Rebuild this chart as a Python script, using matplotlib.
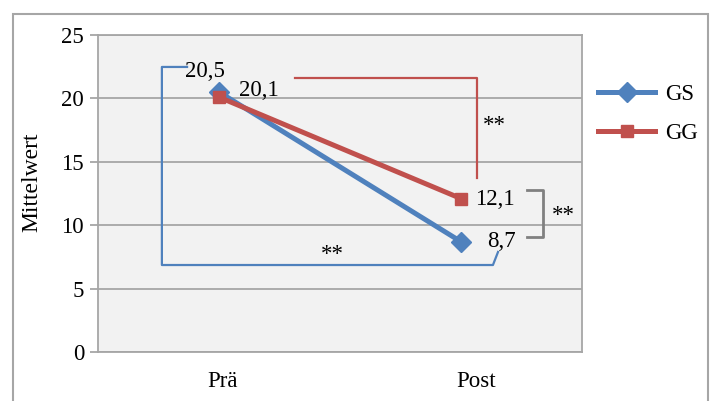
import matplotlib
matplotlib.use("Agg")
import matplotlib.pyplot as plt
import matplotlib.transforms as mtransforms
from matplotlib.patches import Rectangle

plt.rcParams['font.family'] = ['Liberation Serif', 'DejaVu Serif']

# data
categories = ['Prä', 'Post']
gs_values = [20.5, 8.7]
gg_values = [20.1, 12.1]
gs_labels = ['20,5', '8,7']
gg_labels = ['20,1', '12,1']
yticks = [0, 5, 10, 15, 20, 25]

blue = '#4f81bd'
red = '#c0504d'
grey = '#a6a6a6'
fs = 16.5

fig = plt.figure(figsize=(7.14, 4.01), dpi=100)
fig.patch.set_facecolor('white')

# outer chart border
fig.patches.append(Rectangle((13 / 714, -0.05), (708 - 13) / 714, 1.05 - 13.5 / 401,
                             transform=fig.transFigure, fill=False,
                             edgecolor=grey, linewidth=1.5, zorder=0))

ax = fig.add_axes([98 / 714, 1 - 352 / 401, (582 - 98) / 714, (352 - 35) / 401])
ax.set_facecolor('#f2f2f2')
x = list(range(len(categories)))

ax.plot(x, gs_values, color=blue, lw=3.6, marker='D', ms=10, label='GS', zorder=3)
ax.plot(x, gg_values, color=red, lw=3.6, marker='s', ms=8.5, label='GG', zorder=4)

ax.set_xlim(-0.5, 1.5)
ax.set_ylim(0, 25)
ax.set_yticks(yticks)
ax.set_xticks(x)
ax.set_xticklabels(categories)
ax.yaxis.grid(True, color=grey, lw=1.3)
ax.set_axisbelow(True)
for s in ax.spines.values():
    s.set_color(grey)
    s.set_linewidth(1.3)
ax.tick_params(axis='y', length=6, color=grey, width=1.3, labelsize=fs, pad=4)
ax.tick_params(axis='x', length=0, labelsize=fs, pad=14)
# category labels sit a bit right of the points, as in the original
for lab, dx in zip(ax.get_xticklabels(), [4, 15]):
    lab.set_transform(lab.get_transform() +
                      mtransforms.ScaledTranslation(dx / 100, 0, fig.dpi_scale_trans))

ax.text(-0.136, 0.536, 'Mittelwert', transform=ax.transAxes, rotation=90,
        fontsize=17, ha='center', va='center')

# value labels
ax.text(-0.058, 22.1, gs_labels[0], fontsize=fs, ha='center', va='center', zorder=5)
ax.text(0.165, 20.66, gg_labels[0], fontsize=fs, ha='center', va='center', zorder=5)
ax.text(1.14, 12.0, gg_labels[1], fontsize=fs, ha='center', va='center', zorder=5)
ax.text(1.168, 8.68, gs_labels[1], fontsize=fs, ha='center', va='center', zorder=5)

# significance brackets
ax.plot([-0.132, -0.236, -0.236, 1.132, 1.153], [22.48, 22.48, 6.86, 6.86, 7.89],
        color=blue, lw=1.6, zorder=2)
ax.plot([0.314, 1.066, 1.066], [21.6, 21.6, 13.72], color=red, lw=1.6, zorder=2)
ax.plot([1.273, 1.339, 1.339, 1.273], [12.78, 12.78, 9.07, 9.07], color='#808080',
        lw=2, clip_on=False, zorder=2)
ax.text(1.136, 17.9, '**', fontsize=fs, ha='center', va='center')
ax.text(0.467, 7.65, '**', fontsize=fs, ha='center', va='center')
ax.text(1.423, 10.8, '**', fontsize=fs, ha='center', va='center', clip_on=False)

leg = ax.legend(loc='upper left', bbox_to_anchor=(1.033, 0.847), frameon=False,
                fontsize=fs, handlelength=2.5, handletextpad=0.45, labelspacing=0.8,
                borderpad=0, borderaxespad=0)

fig.savefig('out.png', dpi=100)
